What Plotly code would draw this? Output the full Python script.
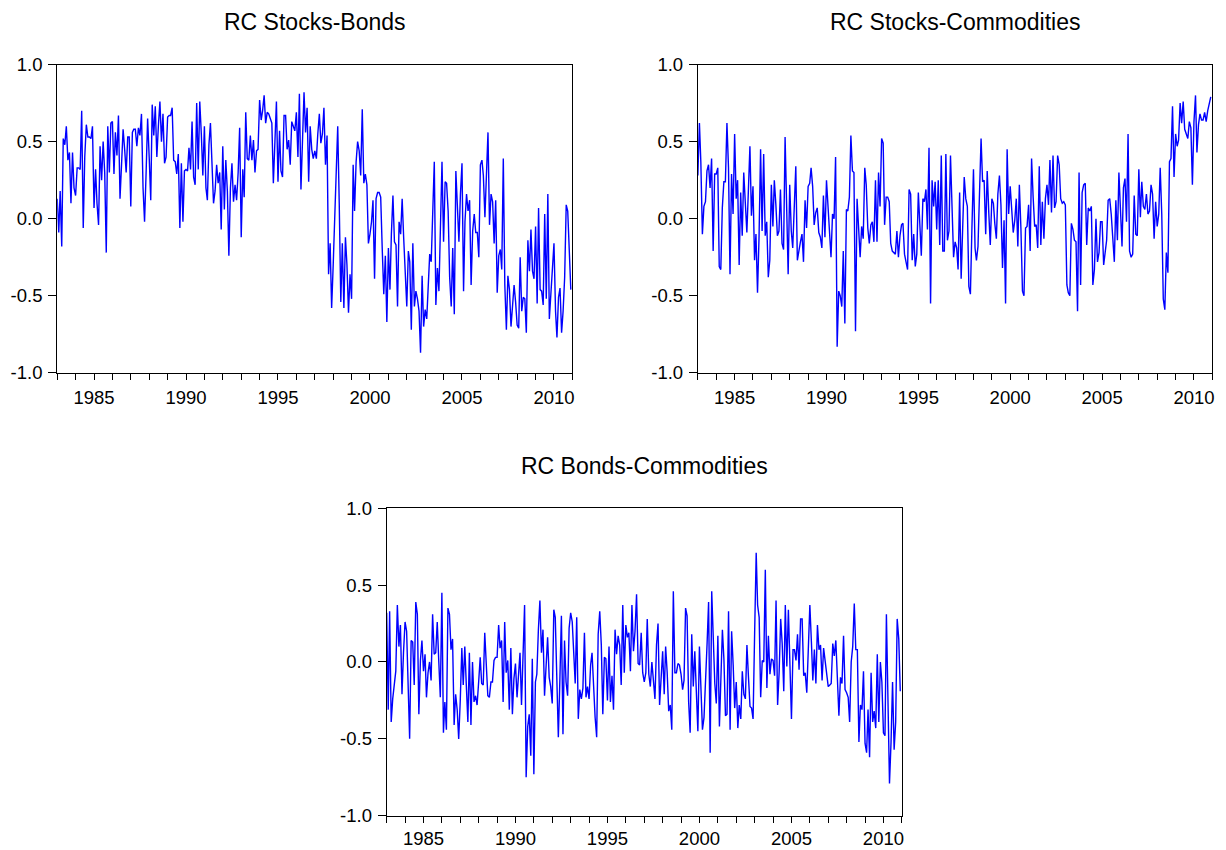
import pandas as pd
import plotly.graph_objects as go

# ---------------- data (monthly, 1983M01 - 2010M12) ----------------
start_month = "1983-01-01"
n_months = 336

stocks_bonds = [
    0.13, -0.09, 0.18, -0.18, 0.52, 0.48, 0.60, 0.38, 0.43, 0.10, 0.43, 0.20,
    0.15, 0.33, 0.33, 0.32, 0.70, -0.06, 0.40, 0.61, 0.53, 0.53, 0.52, 0.60,
    0.07, 0.32, 0.10, -0.04, 0.47, 0.25, 0.50, 0.30, -0.22, 0.60, 0.30, 0.62,
    0.63, 0.29, 0.56, 0.41, 0.67, 0.13, 0.35, 0.58, 0.45, 0.30, 0.53, 0.53,
    0.08, 0.56, 0.58, 0.58, 0.47, 0.59, 0.54, 0.68, 0.20, -0.02, 0.30, 0.65,
    0.40, 0.12, 0.74, 0.54, 0.73, 0.40, 0.60, 0.76, 0.50, 0.68, 0.36, 0.40,
    0.66, 0.67, 0.67, 0.72, 0.38, 0.37, 0.29, 0.42, -0.06, 0.36, -0.02, 0.31,
    0.32, 0.31, 0.46, 0.32, 0.63, 0.27, 0.22, 0.75, 0.32, 0.76, 0.55, 0.28,
    0.60, 0.20, 0.12, 0.48, 0.62, 0.30, 0.10, 0.18, 0.35, 0.23, 0.30, -0.07,
    0.47, 0.06, 0.38, 0.18, -0.24, 0.20, 0.36, 0.11, 0.22, 0.12, 0.30, 0.59,
    -0.12, 0.32, 0.14, 0.69, 0.39, 0.38, 0.54, 0.38, 0.51, 0.30, 0.44, 0.45,
    0.77, 0.64, 0.70, 0.80, 0.62, 0.69, 0.68, 0.65, 0.62, 0.23, 0.50, 0.76,
    0.24, 0.57, 0.31, 0.27, 0.67, 0.67, 0.45, 0.51, 0.35, 0.63, 0.60, 0.57,
    0.69, 0.40, 0.81, 0.19, 0.50, 0.82, 0.56, 0.72, 0.24, 0.60, 0.45, 0.39,
    0.44, 0.39, 0.55, 0.68, 0.49, 0.55, 0.72, 0.35, 0.54, -0.36, -0.16, -0.58,
    -0.30, 0.05, 0.33, 0.60, 0.10, -0.54, -0.16, -0.58, -0.12, -0.30, -0.61, -0.36,
    -0.52, 0.35, 0.05, 0.37, 0.50, 0.44, 0.28, 0.71, 0.23, 0.29, 0.22, -0.16,
    -0.10, -0.02, 0.12, -0.39, 0.13, 0.17, 0.17, 0.14, -0.20, -0.49, -0.24, -0.67,
    -0.19, -0.46, -0.10, 0.15, -0.15, -0.17, -0.57, -0.02, -0.10, 0.13, -0.13, -0.40,
    -0.57, -0.21, -0.28, -0.72, -0.16, -0.57, -0.47, -0.52, -0.60, -0.87, -0.37, -0.70,
    -0.59, -0.65, -0.45, -0.23, -0.28, 0.00, 0.37, -0.56, -0.32, -0.47, -0.10, 0.37,
    -0.15, 0.24, 0.23, 0.05, -0.38, -0.57, -0.19, -0.62, 0.31, 0.09, -0.15, 0.16,
    0.36, -0.47, -0.02, 0.16, 0.05, 0.12, -0.43, -0.08, 0.03, -0.09, -0.09, -0.25,
    0.35, 0.38, 0.28, 0.01, 0.23, 0.56, -0.04, 0.16, 0.11, -0.16, 0.12, -0.48,
    -0.24, -0.20, -0.33, 0.39, -0.43, -0.72, -0.37, -0.46, -0.70, -0.56, -0.43, -0.54,
    -0.69, -0.71, -0.25, -0.60, -0.51, -0.52, -0.74, -0.14, -0.34, -0.07, -0.34, -0.39,
    -0.05, -0.55, 0.07, -0.46, -0.47, -0.56, 0.03, -0.52, 0.16, -0.65, -0.47, -0.35,
    -0.16, -0.60, -0.77, -0.51, -0.45, -0.74, -0.60, -0.38, 0.09, 0.05, -0.20, -0.46,
]

stocks_commodities = [
    0.28, 0.62, 0.37, -0.10, 0.08, 0.11, 0.31, 0.35, 0.20, 0.39, -0.21, 0.29,
    0.29, 0.33, -0.31, -0.33, 0.07, 0.24, 0.24, 0.62, 0.33, -0.36, 0.29, 0.03,
    0.55, 0.13, 0.25, -0.30, 0.17, -0.11, 0.30, 0.09, -0.09, 0.18, 0.47, 0.02,
    0.21, -0.27, -0.10, -0.48, -0.12, 0.45, -0.08, 0.42, -0.11, -0.02, -0.38, -0.27,
    0.22, -0.05, 0.25, 0.09, -0.11, -0.08, 0.19, -0.16, -0.20, 0.53, 0.13, -0.36,
    0.22, -0.08, -0.19, 0.05, 0.34, -0.27, -0.20, -0.15, -0.10, -0.28, 0.12, -0.06,
    0.21, 0.23, 0.33, 0.21, -0.04, 0.04, 0.07, -0.09, -0.12, -0.19, 0.15, -0.12,
    0.25, 0.05, -0.09, -0.25, 0.03, 0.00, 0.40, -0.83, -0.47, -0.50, -0.57, -0.21,
    -0.68, 0.06, 0.05, 0.14, 0.54, 0.31, 0.30, -0.73, 0.13, -0.04, -0.25, -0.05,
    -0.13, 0.33, 0.22, -0.06, -0.16, -0.04, -0.02, -0.15, 0.25, -0.15, 0.30, 0.08,
    0.52, 0.49, -0.04, 0.14, 0.14, 0.11, -0.16, -0.21, -0.22, -0.23, -0.08, -0.25,
    -0.11, -0.04, -0.03, -0.23, -0.28, -0.33, 0.19, 0.16, -0.27, -0.10, -0.31, -0.23,
    0.17, -0.05, -0.24, 0.13, 0.11, 0.19, -0.07, 0.46, -0.55, 0.25, 0.08, 0.24,
    -0.07, 0.25, -0.17, 0.41, -0.21, -0.21, 0.42, -0.14, -0.08, 0.41, 0.10, -0.25,
    -0.15, -0.19, -0.33, 0.17, -0.39, -0.04, 0.27, 0.13, 0.08, -0.44, -0.49, -0.06,
    0.32, -0.19, -0.27, -0.18, 0.16, 0.52, 0.24, 0.25, -0.10, 0.31, 0.04, -0.17,
    0.13, 0.10, -0.03, -0.13, 0.16, 0.28, 0.09, -0.32, -0.01, -0.55, 0.45, 0.03,
    0.21, 0.04, -0.09, -0.01, 0.13, -0.18, 0.22, -0.06, -0.47, -0.50, -0.06, -0.05,
    0.09, -0.21, 0.39, 0.14, -0.05, -0.04, -0.19, 0.34, -0.17, 0.11, -0.13, 0.13,
    0.22, 0.09, 0.38, 0.04, 0.41, 0.07, 0.11, 0.41, 0.35, 0.13, 0.10, 0.11,
    0.09, -0.43, -0.48, -0.50, -0.03, -0.07, -0.14, -0.15, -0.60, 0.30, -0.43, 0.17,
    0.22, 0.23, -0.17, 0.07, 0.05, 0.08, -0.43, -0.33, 0.00, -0.28, -0.22, -0.02,
    -0.02, -0.30, -0.20, -0.14, 0.12, 0.13, 0.03, -0.14, -0.28, 0.12, -0.14, 0.30,
    0.09, -0.18, 0.20, 0.26, -0.02, 0.55, -0.21, -0.25, -0.23, 0.15, -0.10, -0.11,
    0.32, 0.01, 0.24, 0.08, 0.06, 0.16, 0.03, 0.05, 0.22, 0.16, -0.13, 0.11,
    -0.05, 0.03, 0.33, 0.03, -0.52, -0.59, -0.22, -0.35, 0.37, 0.39, 0.73, 0.27,
    0.55, 0.47, 0.51, 0.75, 0.62, 0.76, 0.58, 0.55, 0.52, 0.63, 0.59, 0.22,
    0.63, 0.80, 0.43, 0.61, 0.68, 0.64, 0.64, 0.69, 0.63, 0.70, 0.74, 0.79,
]

bonds_commodities = [
    0.32, -0.31, 0.33, -0.39, -0.24, -0.13, -0.06, 0.37, 0.10, 0.24, -0.21, 0.06,
    0.26, 0.20, -0.15, -0.50, 0.14, 0.13, -0.15, 0.39, 0.31, -0.34, 0.01, 0.14,
    -0.06, 0.05, -0.23, -0.07, 0.00, -0.12, 0.31, 0.05, 0.06, 0.26, 0.00, -0.23,
    0.45, -0.46, -0.26, -0.44, 0.35, 0.31, 0.08, 0.15, -0.41, -0.21, -0.31, -0.50,
    -0.25, 0.09, -0.15, 0.10, -0.15, -0.39, 0.06, -0.41, 0.00, -0.26, -0.22, -0.28,
    -0.13, 0.03, -0.14, -0.15, 0.19, -0.08, -0.22, -0.23, -0.13, -0.13, 0.01, 0.03,
    0.03, 0.24, 0.09, 0.14, -0.26, 0.26, -0.07, 0.01, -0.31, 0.09, -0.34, -0.11,
    -0.01, -0.23, -0.09, 0.06, -0.28, 0.05, 0.37, -0.75, -0.42, -0.34, -0.61, 0.02,
    -0.73, -0.13, -0.08, 0.21, 0.40, 0.06, 0.21, -0.22, 0.02, 0.16, -0.10, -0.16,
    -0.27, 0.34, 0.29, -0.07, -0.49, -0.11, 0.30, -0.47, 0.14, -0.13, -0.22, 0.22,
    0.32, 0.26, 0.08, -0.14, 0.29, -0.37, -0.18, -0.24, -0.17, 0.19, -0.23, -0.16,
    -0.24, -0.02, 0.06, -0.21, -0.36, -0.49, 0.18, 0.33, 0.11, -0.34, 0.03, 0.02,
    -0.25, 0.10, -0.26, -0.09, -0.31, 0.21, 0.05, 0.17, 0.11, -0.15, 0.37, -0.07,
    0.24, 0.16, 0.19, -0.06, 0.37, 0.07, 0.20, 0.44, -0.01, -0.02, 0.19, -0.07,
    -0.13, -0.07, 0.28, -0.08, -0.16, 0.00, -0.10, -0.24, 0.11, 0.25, -0.28, -0.14,
    0.07, -0.21, 0.10, -0.07, -0.32, -0.28, -0.44, 0.46, -0.07, -0.07, -0.01, -0.02,
    -0.08, -0.18, -0.12, 0.35, 0.30, -0.26, -0.46, 0.18, -0.16, 0.07, -0.15, -0.45,
    0.10, -0.15, -0.44, -0.36, -0.16, 0.12, 0.39, -0.59, 0.46, 0.17, -0.14, -0.27,
    0.17, -0.42, -0.10, 0.21, 0.02, -0.35, -0.34, 0.33, -0.44, 0.20, -0.02, -0.30,
    -0.13, -0.43, -0.28, -0.37, -0.06, -0.21, -0.24, 0.11, -0.10, -0.29, -0.30, -0.37,
    0.19, 0.71, 0.37, 0.29, -0.23, 0.01, 0.00, 0.60, -0.17, 0.17, -0.08, 0.02,
    0.01, -0.09, 0.40, -0.28, -0.07, 0.28, 0.12, -0.19, 0.37, -0.03, 0.34, -0.07,
    -0.37, 0.08, 0.08, 0.01, 0.18, -0.05, 0.28, 0.28, -0.09, -0.07, -0.20, 0.08,
    0.37, 0.13, -0.12, 0.08, -0.14, 0.24, 0.08, 0.11, -0.12, 0.09, 0.00, -0.08,
    -0.16, -0.15, -0.14, 0.12, 0.04, 0.14, -0.11, -0.35, -0.10, -0.14, 0.17, -0.18,
    -0.20, -0.23, -0.39, 0.00, 0.10, 0.38, 0.08, 0.08, -0.52, -0.28, -0.31, -0.06,
    -0.53, -0.59, -0.31, -0.62, -0.07, -0.39, -0.32, -0.43, 0.05, -0.39, 0.00, -0.13,
    -0.46, -0.48, 0.31, -0.25, -0.79, -0.52, -0.13, -0.57, -0.39, 0.28, 0.15, -0.19,
]

titles = ["RC Stocks-Bonds", "RC Stocks-Commodities", "RC Bonds-Commodities"]
y_tickvals = [-1.0, -0.5, 0.0, 0.5, 1.0]
y_ticktext = ["-1.0", "-0.5", "0.0", "0.5", "1.0"]

dates = pd.date_range(start_month, periods=n_months, freq="MS")

# ---------------- layout geometry ----------------
W, H = 1226, 868
# (left, right, top, bottom) in layout pixels
panels = [
    (57.3, 573.3, 54.9, 370.8),
    (699.0, 1214.3, 54.9, 370.8),
    (387.3, 903.3, 509.5, 824.7),
]
x_label_standoff = [2, 2, 0]
title_y_px = [11.2, 11.2, 466.5]

FONT = "Liberation Sans, Arial, sans-serif"
series = [stocks_bonds, stocks_commodities, bonds_commodities]

fig = go.Figure()
annotations = []
for i, (vals, (l, r, t, b)) in enumerate(zip(series, panels)):
    sfx = "" if i == 0 else str(i + 1)
    fig.add_trace(go.Scatter(
        x=dates, y=vals, mode="lines",
        line=dict(color="#0000FF", width=1.4),
        xaxis="x" + sfx, yaxis="y" + sfx, showlegend=False,
        hoverinfo="x+y",
    ))
    xa = dict(
        domain=[l / W, r / W], anchor="y" + sfx, type="date",
        range=["1983-01-01", "2011-01-01"],
        tickmode="linear", tick0="1985-01-01", dtick="M60", tickformat="%Y",
        ticks="outside", ticklen=6, tickwidth=1, tickcolor="black",
        ticklabelstandoff=x_label_standoff[i],
        minor=dict(tickmode="linear", tick0="1983-01-01", dtick="M12",
                   ticks="outside", ticklen=6, tickwidth=1, tickcolor="black",
                   showgrid=False),
        showgrid=False, zeroline=False,
        showline=True, mirror=True, linecolor="black", linewidth=1,
        tickfont=dict(family=FONT, size=18.5, color="black"),
        fixedrange=True,
    )
    ya = dict(
        domain=[1 - b / H, 1 - t / H], anchor="x" + sfx,
        range=[-1.0, 1.0],
        tickmode="array", tickvals=y_tickvals, ticktext=y_ticktext,
        ticks="outside", ticklen=8, tickwidth=1, tickcolor="black",
        ticklabelstandoff=2,
        showgrid=False, zeroline=False,
        showline=True, mirror=True, linecolor="black", linewidth=1,
        tickfont=dict(family=FONT, size=18.5, color="black"),
        fixedrange=True,
    )
    fig.update_layout({"xaxis" + sfx: xa, "yaxis" + sfx: ya})
    annotations.append(dict(
        text=titles[i], x=(l + r) / 2 / W,
        y=1 - title_y_px[i] / H,
        xref="paper", yref="paper", xanchor="center", yanchor="middle",
        showarrow=False, font=dict(family=FONT, size=23, color="black"),
    ))

fig.update_layout(
    width=W, height=H,
    margin=dict(l=0, r=0, t=0, b=0),
    paper_bgcolor="white", plot_bgcolor="white",
    annotations=annotations,
    showlegend=False,
)

fig.write_html(
    "out.html",
    config={"displayModeBar": False},
    post_script="document.body.style.margin='0';document.body.style.padding='0';document.body.style.overflow='hidden';",
)
